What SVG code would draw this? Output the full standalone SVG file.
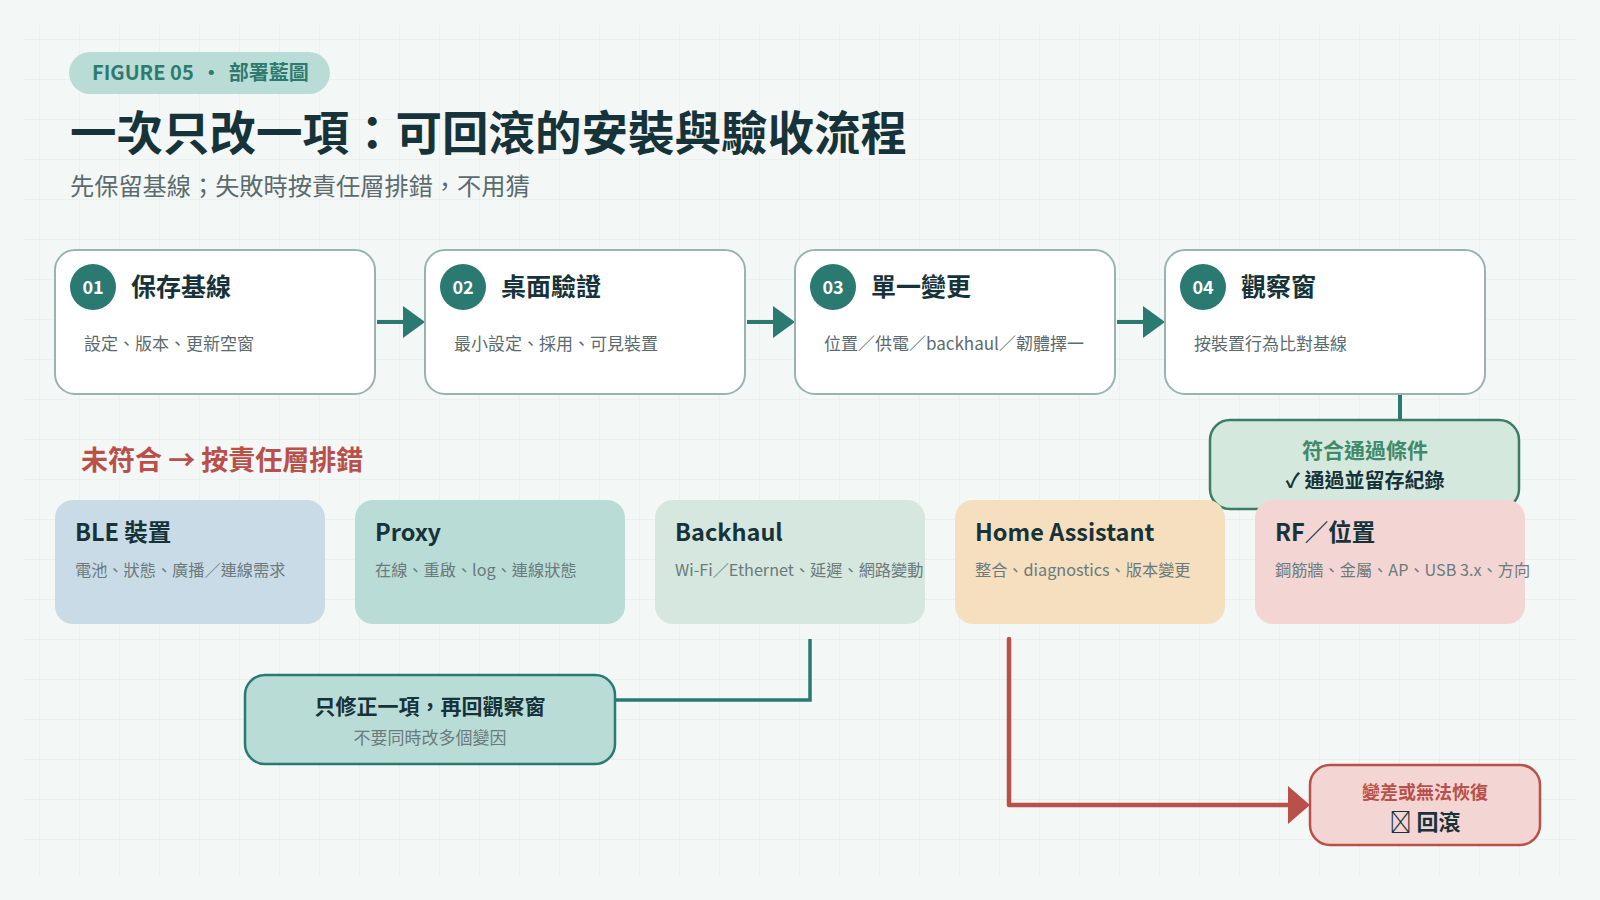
<svg xmlns="http://www.w3.org/2000/svg" width="1600" height="900" viewBox="0 0 1600 900">
<defs>
<pattern id="grid" x="0" y="0" width="40" height="40" patternUnits="userSpaceOnUse">
<path d="M40 0V40M0 40H40" fill="none" stroke="#e3ebe9" stroke-width="1"/>
</pattern>
</defs>
<style>
text{font-family:"Noto Sans CJK TC","Noto Sans",sans-serif;}
.card{fill:#ffffff;stroke:#9ab3b0;stroke-width:2;}
.num{fill:#2a7a72;}
.numt{fill:#ffffff;font-size:18px;font-weight:700;text-anchor:middle;}
.ct{fill:#17333a;font-size:25px;font-weight:700;}
.cd{fill:#5b6b6e;font-size:17px;}
.lt{fill:#17333a;font-size:23.5px;font-weight:700;}
.ld{fill:#6b7a7c;font-size:16.2px;}
.teal{stroke:#2a7a72;stroke-width:4;fill:none;}
</style>
<rect width="1600" height="900" fill="#f3f7f6"/>
<rect x="24" y="24" width="1552" height="852" fill="url(#grid)"/>

<g id="header">
<rect x="69" y="52" width="261" height="42" rx="21" fill="#b9ddd6"/>
<text x="92" y="80" fill="#2f7a70" font-size="20" font-weight="700">FIGURE 05 <tspan dx="3">•</tspan> <tspan dx="3">部署藍圖</tspan></text>
<text x="70" y="150" fill="#17333a" font-size="46.5" font-weight="700">一次只改一項：可回滾的安裝與驗收流程</text>
<text x="70" y="195" fill="#5b6b6e" font-size="24.2">先保留基線；失敗時按責任層排錯，不用猜</text>
</g>

<g id="connectors">
<path class="teal" d="M377 322H405"/>
<polygon points="403,306 425,322 403,338" fill="#2a7a72"/>
<path class="teal" d="M747 322H775"/>
<polygon points="773,306 795,322 773,338" fill="#2a7a72"/>
<path class="teal" d="M1117 322H1145"/>
<polygon points="1143,306 1165,322 1143,338" fill="#2a7a72"/>
<path class="teal" d="M1400 394V420"/>
<path d="M810 639V700H615" fill="none" stroke="#2a7a72" stroke-width="3.5"/>
<path d="M1009 639V805H1290" fill="none" stroke="#b9504a" stroke-width="4.5" stroke-linejoin="round" stroke-linecap="round"/>
<polygon points="1288,786 1310,805 1288,824" fill="#b9504a"/>
</g>

<g id="step1">
<rect class="card" x="55" y="250" width="320" height="144" rx="20"/>
<circle class="num" cx="93" cy="287" r="23"/>
<text class="numt" x="93" y="293.5">01</text>
<text class="ct" x="131" y="296">保存基線</text>
<text class="cd" x="84" y="350">設定、版本、更新空窗</text>
</g>
<g id="step2">
<rect class="card" x="425" y="250" width="320" height="144" rx="20"/>
<circle class="num" cx="463" cy="287" r="23"/>
<text class="numt" x="463" y="293.5">02</text>
<text class="ct" x="501" y="296">桌面驗證</text>
<text class="cd" x="454" y="350">最小設定、採用、可見裝置</text>
</g>
<g id="step3">
<rect class="card" x="795" y="250" width="320" height="144" rx="20"/>
<circle class="num" cx="833" cy="287" r="23"/>
<text class="numt" x="833" y="293.5">03</text>
<text class="ct" x="871" y="296">單一變更</text>
<text class="cd" x="824" y="350">位置／供電／backhaul／韌體擇一</text>
</g>
<g id="step4">
<rect class="card" x="1165" y="250" width="320" height="144" rx="20"/>
<circle class="num" cx="1203" cy="287" r="23"/>
<text class="numt" x="1203" y="293.5">04</text>
<text class="ct" x="1241" y="296">觀察窗</text>
<text class="cd" x="1194" y="350">按裝置行為比對基線</text>
</g>

<g id="pass">
<rect x="1210" y="420" width="309" height="89" rx="20" fill="#d5e8de" stroke="#3a7d63" stroke-width="2.5"/>
<text x="1365" y="458" fill="#3f8a6a" font-size="21" font-weight="700" text-anchor="middle">符合通過條件</text>
<text x="1365" y="488" fill="#17333a" font-size="20" font-weight="700" text-anchor="middle">✓ 通過並留存紀錄</text>
</g>

<g id="fail-label">
<text x="81" y="470" fill="#b9504a" font-size="27" font-weight="700">未符合 → 按責任層排錯</text>
</g>

<g id="layer-ble">
<rect x="55" y="500" width="270" height="124" rx="18" fill="#c9dbe6"/>
<text class="lt" x="75" y="541">BLE 裝置</text>
<text class="ld" x="75" y="576">電池、狀態、廣播／連線需求</text>
</g>
<g id="layer-proxy">
<rect x="355" y="500" width="270" height="124" rx="18" fill="#b9ddd6"/>
<text class="lt" x="375" y="541">Proxy</text>
<text class="ld" x="375" y="576">在線、重啟、log、連線狀態</text>
</g>
<g id="layer-backhaul">
<rect x="655" y="500" width="270" height="124" rx="18" fill="#d5e7de"/>
<text class="lt" x="675" y="541">Backhaul</text>
<text class="ld" x="675" y="576">Wi-Fi／Ethernet、延遲、網路變動</text>
</g>
<g id="layer-ha">
<rect x="955" y="500" width="270" height="124" rx="18" fill="#f5dfbf"/>
<text class="lt" x="975" y="541">Home Assistant</text>
<text class="ld" x="975" y="576">整合、diagnostics、版本變更</text>
</g>
<g id="layer-rf">
<rect x="1255" y="500" width="270" height="124" rx="18" fill="#f3d6d3"/>
<text class="lt" x="1275" y="541">RF／位置</text>
<text class="ld" x="1275" y="576">鋼筋牆、金屬、AP、USB 3.x、方向</text>
</g>

<g id="fix">
<rect x="245" y="675" width="370" height="89" rx="20" fill="#b9ddd6" stroke="#2a7a72" stroke-width="2.5"/>
<text x="430" y="714" fill="#17333a" font-size="21" font-weight="700" text-anchor="middle">只修正一項，再回觀察窗</text>
<text x="430" y="744" fill="#6b7a7c" font-size="17" text-anchor="middle">不要同時改多個變因</text>
</g>

<g id="rollback">
<rect x="1310" y="765" width="230" height="80" rx="20" fill="#f3d6d3" stroke="#b9504a" stroke-width="2.5"/>
<text x="1425" y="799" fill="#b9504a" font-size="18" font-weight="700" text-anchor="middle">變差或無法恢復</text>
<text x="1425" y="830" fill="#17333a" font-size="22" font-weight="700" text-anchor="middle">&#xE000; 回滾</text>
</g>
</svg>
